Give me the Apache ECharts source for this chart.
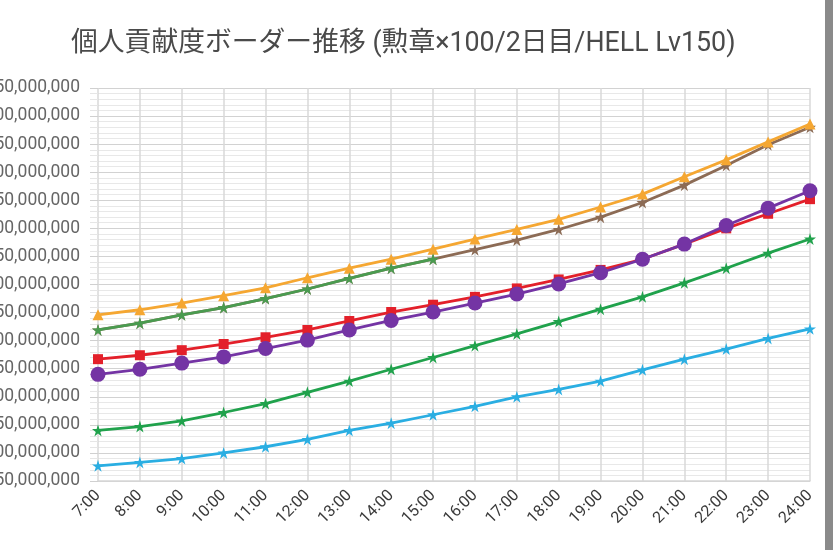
<!DOCTYPE html>
<html><head><meta charset="utf-8">
<script src="https://cdn.jsdelivr.net/npm/echarts@6/dist/echarts.min.js"></script>
<style>html,body{margin:0;padding:0;background:#fff}#c{width:833px;height:550px}</style>
</head><body><div id="c"></div>
<script>
const titleText = '個人貢献度ボーダー推移 (勲章×100/2日目/HELL Lv150)';
const categories = ['7:00','8:00','9:00','10:00','11:00','12:00','13:00','14:00','15:00','16:00','17:00','18:00','19:00','20:00','21:00','22:00','23:00','24:00'];
const M = 1000000;
const orange = [446,455,467,480,494,512,529,545,563,581,598,616,638,661,692,722,754,786];
const brown  = [419,431,446,459,475,492,511,529,545,562,579,598,620,646,677,712,749,780];
const greenUpper = [419,431,446,459,475,492,511,529,545,null,null,null,null,null,null,null,null,null];
const red    = [367,374,383,394,406,419,435,451,464,478,493,509,526,545,572,600,626,652];
const purple = [340,349,360,371,386,401,419,436,451,467,483,501,521,545,572,605,636,667];
const greenLower = [240,247,257,272,288,308,328,349,370,391,412,434,456,478,503,529,556,581];
const blue   = [177,183,190,200,211,224,240,253,268,283,300,313,328,348,367,385,404,421];
const yMin = 150, yMax = 850, yStep = 50;

const STAR = 'path://M50,0 L61,35 L98,35 L68,57 L79,92 L50,70 L21,92 L32,57 L2,35 L39,35 Z';
function s(name, data, color, symbol, size, z) {
  return {
    name, type: 'line', data: data.map(v => v == null ? null : v * M),
    symbol, symbolSize: size, z: z,
    lineStyle: { color, width: 2.8 },
    itemStyle: { color },
    connectNulls: false, animation: false
  };
}
const chart = echarts.init(document.getElementById('c'));
chart.setOption({
  animation: false,
  backgroundColor: '#fff',
  title: { text: titleText, left: 66, top: 26,
    textStyle: { fontFamily: 'Roboto, "Noto Sans CJK JP", sans-serif', fontSize: 26.8, fontWeight: 'normal', color: '#4a4a4a' } },
  grid: { left: 98, right: 23, top: 88, bottom: 69, containLabel: false, outerBoundsMode: 'none' },
  xAxis: {
    type: 'category', data: categories, boundaryGap: false,
    axisLine: { show: true, lineStyle: { color: '#d6d6d6', width: 1.5 } },
    axisTick: { show: false },
    splitLine: { show: true, lineStyle: { color: '#d9d9d9', width: 1.5 } },
    axisLabel: { rotate: 45, margin: 12, fontSize: 16, color: '#3a3a3a', fontFamily: 'Roboto, sans-serif', interval: 0 }
  },
  yAxis: {
    type: 'value', min: yMin * M, max: yMax * M, interval: yStep * M,
    axisLine: { show: false },
    axisTick: { show: true, length: 8, lineStyle: { color: '#d0d0d0' } },
    minorTick: { show: true, splitNumber: 5, length: 8, lineStyle: { color: '#e6e6e6' } },
    splitLine: { show: true, lineStyle: { color: '#d2d2d2', width: 1.2 } },
    minorSplitLine: { show: true, lineStyle: { color: '#e8e8e8', width: 1 } },
    axisLabel: { margin: 18, fontSize: 17.5, color: '#666', fontFamily: 'Roboto, sans-serif',
      formatter: v => v.toLocaleString('en-US') }
  },
  series: [
    s('brown', brown, '#8c6b55', STAR, 12, 2),
    s('orange', orange, '#f5a732', 'triangle', 11, 3),
    s('greenUpper', greenUpper, '#4a9b50', STAR, 12, 4),
    s('red', red, '#e3202a', 'rect', 10, 5),
    s('purple', purple, '#7434a4', 'circle', 15, 6),
    s('greenLower', greenLower, '#20a24c', STAR, 12, 5),
    s('blue', blue, '#2aaee2', STAR, 12, 5)
  ],
  graphic: [{ type: 'rect', left: 825, top: 0, shape: { width: 8, height: 550 }, style: { fill: '#8a8a8a' }, z: 100 }]
});
</script></body></html>
